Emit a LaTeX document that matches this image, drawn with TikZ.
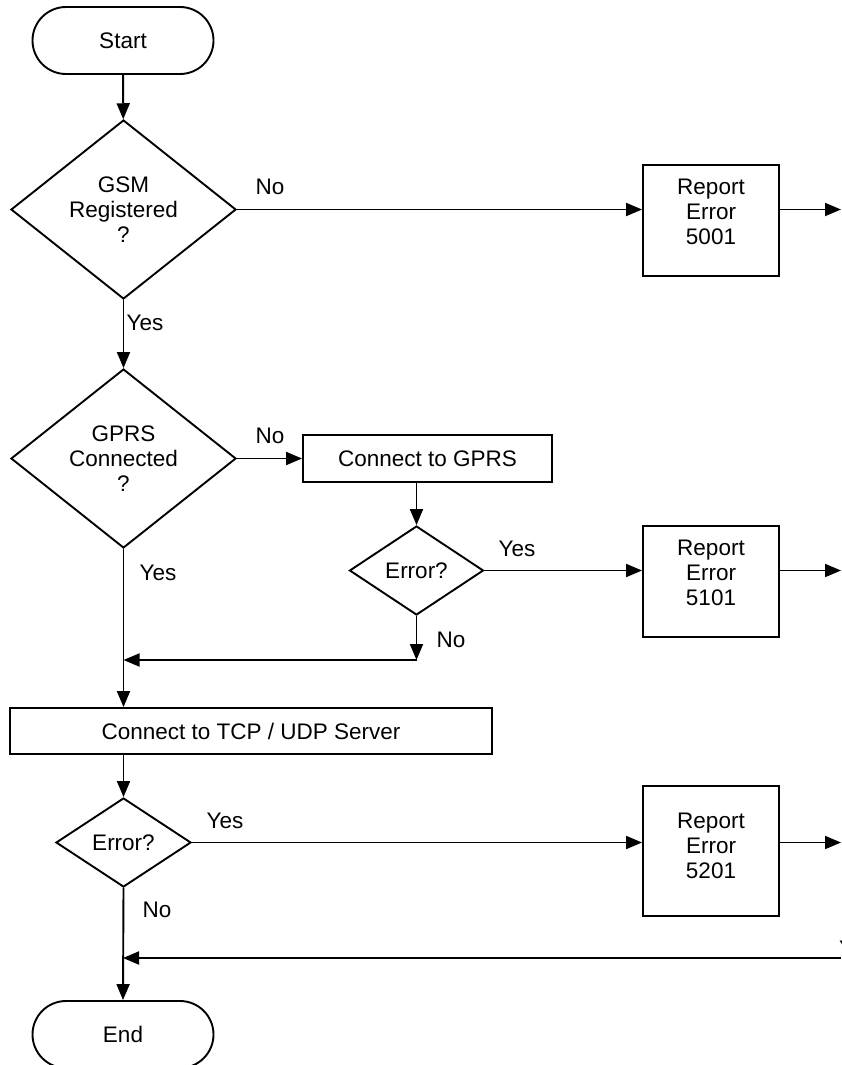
\documentclass[tikz,border=0pt]{standalone}
\usepackage{fontspec}
\setmainfont{Liberation Sans}
\usetikzlibrary{shapes.geometric,arrows.meta,shadows}
\begin{document}
\begin{tikzpicture}[x=1pt,y=-1pt,
  every node/.style={font=\fontsize{22.5}{25}\selectfont},
  line/.style={line width=1.9pt},
  arr/.style={line width=1.9pt,-{Triangle[length=16pt,width=13pt]}},
  term/.style={draw,line width=1.9pt,rounded corners=33.5pt,minimum width=181pt,minimum height=67pt,inner sep=0pt},
  dec/.style={draw,diamond,line width=1.9pt,inner sep=0pt,align=center},
  proc/.style={draw,fill=white,line width=1.9pt,inner sep=0pt,align=center,
    drop shadow={shadow xshift=1.3pt,shadow yshift=-1.3pt,fill=gray!70,opacity=1}},
  txt/.style={inner sep=0pt,align=center},
  lbl/.style={inner sep=0pt}]
\clip (0,0) rectangle (841,1065);
\fill[white] (0,0) rectangle (841,1065);
% nodes
\node[term] (start) at (123,40.5) {Start};
\node[dec,minimum width=225pt,minimum height=179pt,aspect=1.26] (gsm) at (123.5,209.5) {GSM\\Registered\\?};
\node[proc,minimum width=136pt,minimum height=111pt] (r1) at (711,220.5) {};
\node[txt] (r1t) at (711,212) {Report\\Error\\5001};
\node[dec,minimum width=225pt,minimum height=179pt,aspect=1.26] (gprs) at (123.5,458.5) {GPRS\\Connected\\?};
\node[proc,minimum width=249pt,minimum height=47pt] (cg) at (427.5,458.5) {Connect to GPRS};
\node[dec,minimum width=134pt,minimum height=89pt,aspect=1.5] (e1) at (416.5,570.5) {Error?};
\node[proc,minimum width=136pt,minimum height=111pt] (r2) at (711,581.5) {};
\node[txt] (r2t) at (711,573) {Report\\Error\\5101};
\node[proc,minimum width=482pt,minimum height=46pt] (tcp) at (251,731) {Connect to TCP / UDP Server};
\node[dec,minimum width=135pt,minimum height=89pt,aspect=1.5] (e2) at (123.5,842.5) {Error?};
\node[proc,minimum width=136pt,minimum height=130pt] (r3) at (711,851) {};
\node[txt] (r3t) at (711,846) {Report\\Error\\5201};
\node[term] (end) at (123,1034.5) {End};
% edge coordinates
\coordinate (o1) at (841,209.5);
\coordinate (o2) at (841,570.5);
\coordinate (o3) at (841,842.5);
\coordinate (ret) at (841,958);
\coordinate (m1) at (416.5,660);
% labels
\node[lbl] (l1) at (270,187) {No};
\node[lbl] (l2) at (145,323) {Yes};
\node[lbl] (l3) at (270,436) {No};
\node[lbl] (l4) at (517,549) {Yes};
\node[lbl] (l5) at (158,573) {Yes};
\node[lbl] (l6) at (451,640) {No};
\node[lbl] (l7) at (225,821) {Yes};
\node[lbl] (l8) at (157,910) {No};
\node[lbl,anchor=west] (l9) at (839,949) {Yes};
% connectors
\draw[arr] (start) -- (gsm);
\draw[arr] (gsm.east) -- (r1.west |- gsm.east);
\draw[arr] (r1.east |- gsm.east) -- (o1);
\draw[arr] (gsm.south) -- (gprs.north);
\draw[arr] (gprs.east) -- (cg.west);
\draw[arr] (cg.south -| e1.north) -- (e1.north);
\draw[arr] (e1.east) -- (r2.west |- e1.east);
\draw[arr] (r2.east |- e1.east) -- (o2);
\draw[arr] (e1.south) -- (m1);
\draw[arr] (m1) -- (m1 -| gprs.south);
\draw[arr] (gprs.south) -- (tcp.north -| gprs.south);
\draw[arr] (tcp.south -| e2.north) -- (e2.north);
\draw[arr] (e2.east) -- (r3.west |- e2.east);
\draw[arr] (r3.east |- e2.east) -- (o3);
\draw[arr] (e2.south) -- (end.north);
\draw[arr] (ret) -- (ret -| end.north);
\end{tikzpicture}
\end{document}
